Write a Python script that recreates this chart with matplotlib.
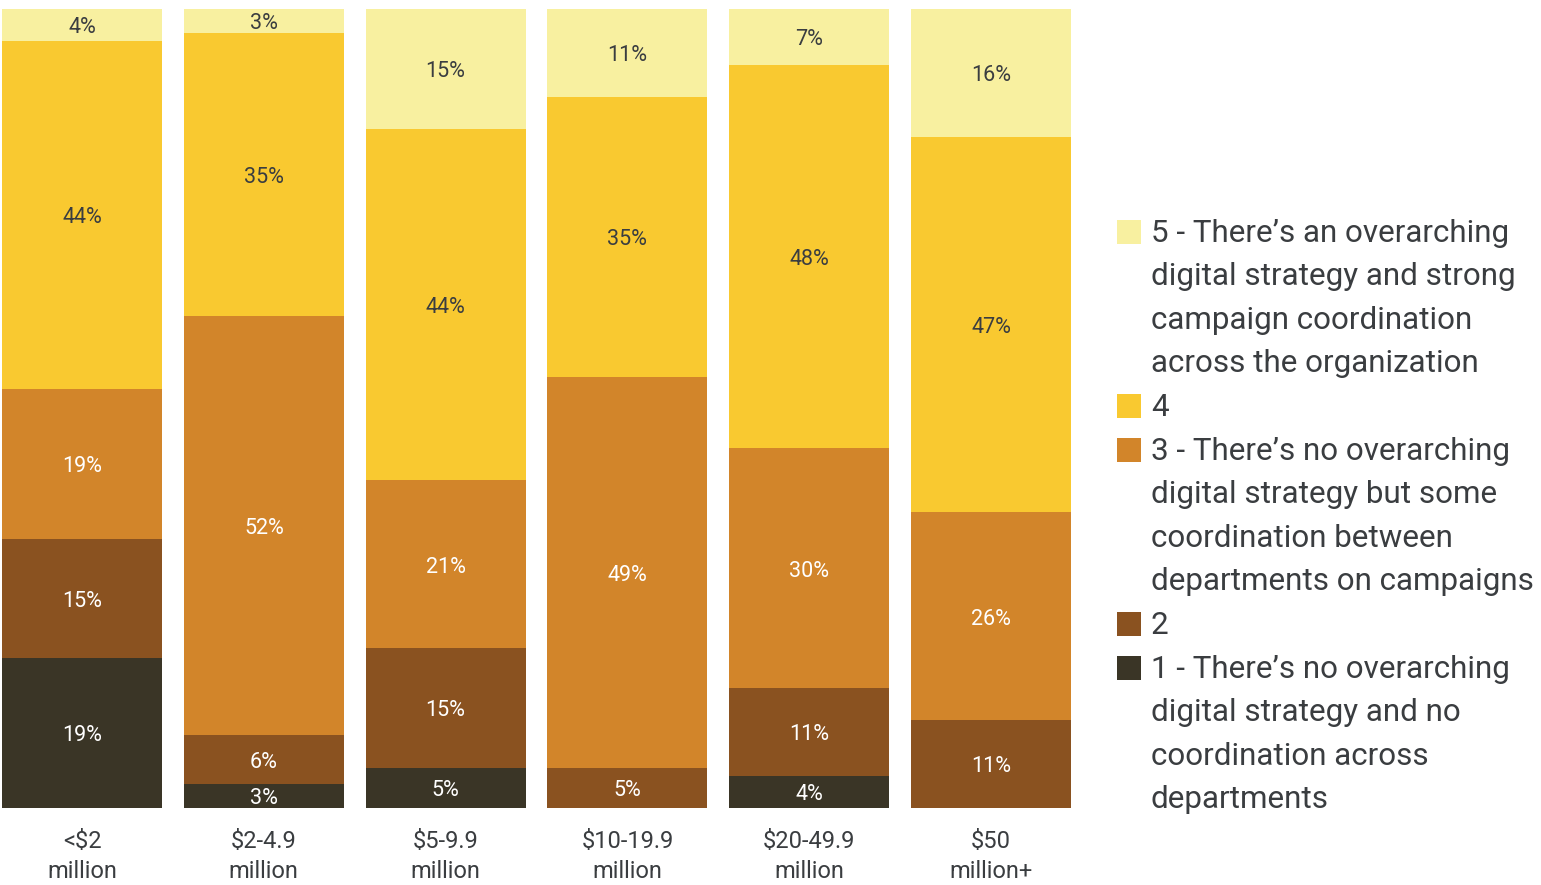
import matplotlib.pyplot as plt
import numpy as np
from matplotlib.patches import Rectangle

plt.rcParams['font.family'] = ['Roboto', 'DejaVu Sans']

budgets = ['<$2\nmillion', '$2-4.9\nmillion', '$5-9.9\nmillion',
           '$10-19.9\nmillion', '$20-49.9\nmillion', '$50\nmillion+']

# share of respondents per rating, bottom (1) to top (5)
rating1 = [19, 3, 5, 0, 4, 0]
rating2 = [15, 6, 15, 5, 11, 11]
rating3 = [19, 52, 21, 49, 30, 26]
rating4 = [44, 35, 44, 35, 48, 47]
rating5 = [4, 3, 15, 11, 7, 16]

legend_labels = [
    "5 - There\u2019s an overarching\ndigital strategy and strong\ncampaign coordination\nacross the organization",
    "4",
    "3 - There\u2019s no overarching\ndigital strategy but some\ncoordination between\ndepartments on campaigns",
    "2",
    "1 - There\u2019s no overarching\ndigital strategy and no\ncoordination across\ndepartments",
]

colors = ['#3a3526', '#8a5220', '#d2852a', '#f9c930', '#f8f0a0']
text_colors = ['white', 'white', 'white', '#3a3d40', '#3a3d40']
grey = '#3a3d40'

series = np.array([rating1, rating2, rating3, rating4, rating5], dtype=float)
totals = series.sum(axis=0)
shares = series / totals * 100

fig = plt.figure(figsize=(15.41, 8.85), dpi=100)
ax = fig.add_axes([0.0013, 0.087, 0.6937, 0.9028])

x = np.arange(len(budgets))
bottom = np.zeros(len(budgets))
for i in range(5):
    bars = ax.bar(x, shares[i], width=0.88, bottom=bottom, color=colors[i],
                  linewidth=0)
    labels = [f'{int(v)}%' if v > 0 else '' for v in series[i]]
    anns = ax.bar_label(bars, labels=labels, label_type='center',
                        color=text_colors[i], fontsize=15.5)
    for a in anns:
        a.xyann = (0, -2)
    bottom += shares[i]

ax.set_xlim(-0.44, len(budgets) - 0.56)
ax.set_ylim(0, 100)
ax.set_xticks(x)
ax.set_xticklabels(budgets, fontsize=17, color=grey, linespacing=1.35)
ax.tick_params(axis='x', length=0, pad=16)
ax.set_yticks([])
for s in ax.spines.values():
    s.set_visible(False)

# legend: one square per rating, text lines on a common pitch
W, H = 1541, 885
line_step = 43.6
y_line = 233
for color, label in zip(colors[::-1], legend_labels):
    fig.patches.append(Rectangle((1117 / W, 1 - (y_line + 11) / H), 24 / W, 24 / H,
                                 transform=fig.transFigure, color=color,
                                 linewidth=0))
    for j, line in enumerate(label.split('\n')):
        fig.text(1151 / W, 1 - (y_line + j * line_step) / H, line,
                 fontsize=22.6, color=grey, va='center', ha='left')
    y_line += line_step * (label.count('\n') + 1)

fig.savefig('out.png', dpi=100)
